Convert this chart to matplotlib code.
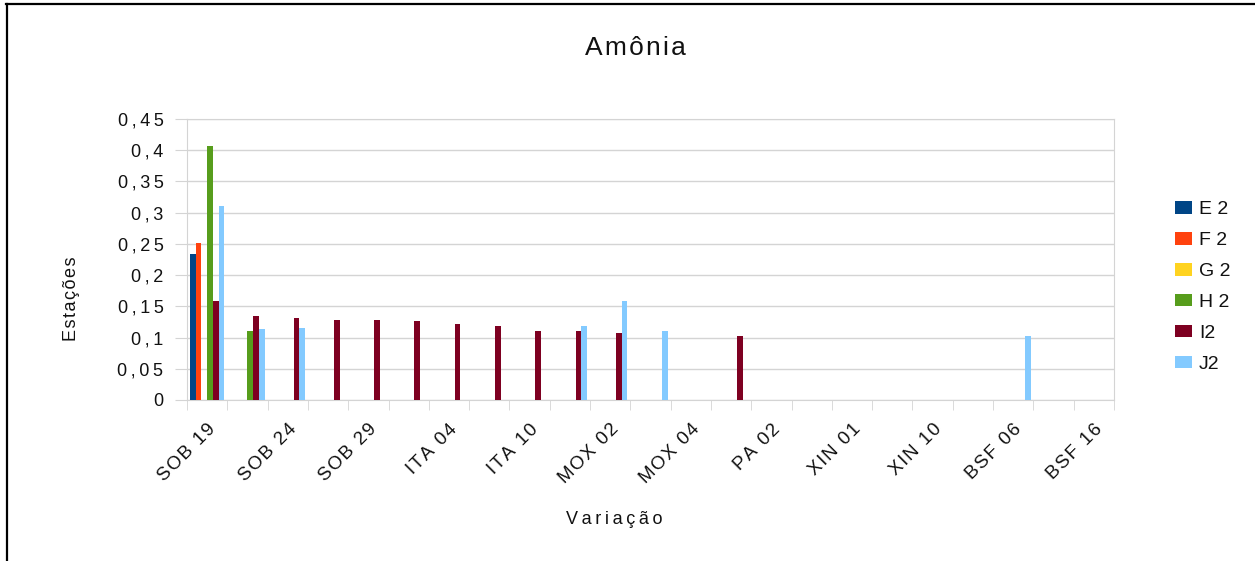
#!/usr/bin/env python3

# plot.py - Amônia bar chart (LibreOffice style)

import matplotlib
matplotlib.use("Agg")
import matplotlib.pyplot as plt
import numpy as np
from matplotlib.lines import Line2D
from matplotlib.patches import Patch

N_CAT = 23
nan = np.nan

# only every other category is labelled in the chart
stations = ["SOB 19", "SOB 24", "SOB 29", "ITA 04", "ITA 10", "MOX 02",
            "MOX 04", "PA 02", "XIN 01", "XIN 10", "BSF 06", "BSF 16"]

series_names = ["E 2", "F 2", "G 2", "H 2", "I2", "J2"]

e2 = [0.234] + [nan] * 22
f2 = [0.252] + [nan] * 22
g2 = [nan] * 23
h2 = [0.407, 0.110] + [nan] * 21
i2 = [0.158, 0.134, 0.131, 0.128, 0.128, 0.126, 0.121, 0.118, 0.110, 0.110,
      0.107, nan, nan, 0.102, nan, nan, nan, nan, nan, nan, nan, nan, nan]
j2 = [0.310, 0.113, 0.115, nan, nan, nan, nan, nan, nan, 0.118,
      0.158, 0.110, nan, nan, nan, nan, nan, nan, nan, nan, 0.102, nan, nan]

COLORS = ["#004586", "#ff420e", "#ffd320", "#579d1c", "#7e0021", "#83caff"]
GRID = "#d4d4d4"
TXT = "#111111"
THIN = "\u2009"
HAIR = "\u200a"


def spaced(s, sep=THIN):
    # LibreOffice draws the chart text with wide letter spacing
    return sep.join(s)


plt.rcParams["font.family"] = ["Liberation Sans", "DejaVu Sans"]

fig = plt.figure(figsize=(12.55, 5.61), dpi=100, facecolor="white")
ax = fig.add_axes([187 / 1255, 1 - 400 / 561, (1114 - 187) / 1255, (400 - 119) / 561])

x = np.arange(N_CAT)
width = 1 / 7
for k, (name, vals) in enumerate(zip(series_names, [e2, f2, g2, h2, i2, j2])):
    ax.bar(x + (k - 2.5) * width, vals, width=width, color=COLORS[k],
           label=name, zorder=3, linewidth=0)

ax.set_xlim(-0.5, N_CAT - 0.5)
ax.set_ylim(0, 0.45)

# Y axis
yt = np.arange(0, 0.451, 0.05)
ax.set_yticks(yt)
ax.set_yticklabels([spaced(f"{v:.2f}".rstrip("0").rstrip(".").replace(".", ",")) for v in yt],
                   fontsize=13, color=TXT)
ax.tick_params(axis="y", length=9, color=GRID, pad=8)
ax.grid(axis="y", color=GRID, linewidth=1, zorder=0)

# X axis: ticks between categories, labels every other category
ax.set_xticks(np.arange(-0.5, N_CAT, 1), minor=True)
ax.set_xticks(np.arange(0, N_CAT, 2))
ax.set_xticklabels([spaced(s, HAIR) for s in stations], rotation=45, ha="right",
                   rotation_mode="anchor", fontsize=13.5, color=TXT)
ax.tick_params(axis="x", which="major", length=0, pad=15)
ax.tick_params(axis="x", which="minor", length=7, color=GRID)

for s in ax.spines.values():
    s.set_color(GRID)

fig.text(72 / 1255, 1 - 299 / 561, spaced("Estações", HAIR), rotation=90, ha="center",
         va="center", fontsize=13, color=TXT)
fig.text(614 / 1255, 1 - 520 / 561, spaced("Variação"), ha="center", va="center",
         fontsize=13, color=TXT)
fig.text(635 / 1255, 1 - 48 / 561, spaced("Amônia", HAIR), ha="center", va="center",
         fontsize=19, color=TXT)

handles = [Patch(facecolor=c, edgecolor="none") for c in COLORS]
fig.legend(handles, series_names, loc="upper left",
           bbox_to_anchor=(1175 / 1255, 1 - 201 / 561), frameon=False,
           borderpad=0, borderaxespad=0, prop={"size": 14},
           handlelength=0.88, handleheight=0.62, handletextpad=0.35,
           labelspacing=0.71)
for t in fig.legends[0].get_texts():
    t.set_color(TXT)

# frame lines on top and left of the picture
fig.add_artist(Line2D([6 / 1255, 1], [1 - 4 / 561, 1 - 4 / 561], color="black", linewidth=1.6))
fig.add_artist(Line2D([7 / 1255, 7 / 1255], [0, 1 - 4 / 561], color="black", linewidth=1.6))

fig.savefig("out.png", dpi=100, facecolor="white")
